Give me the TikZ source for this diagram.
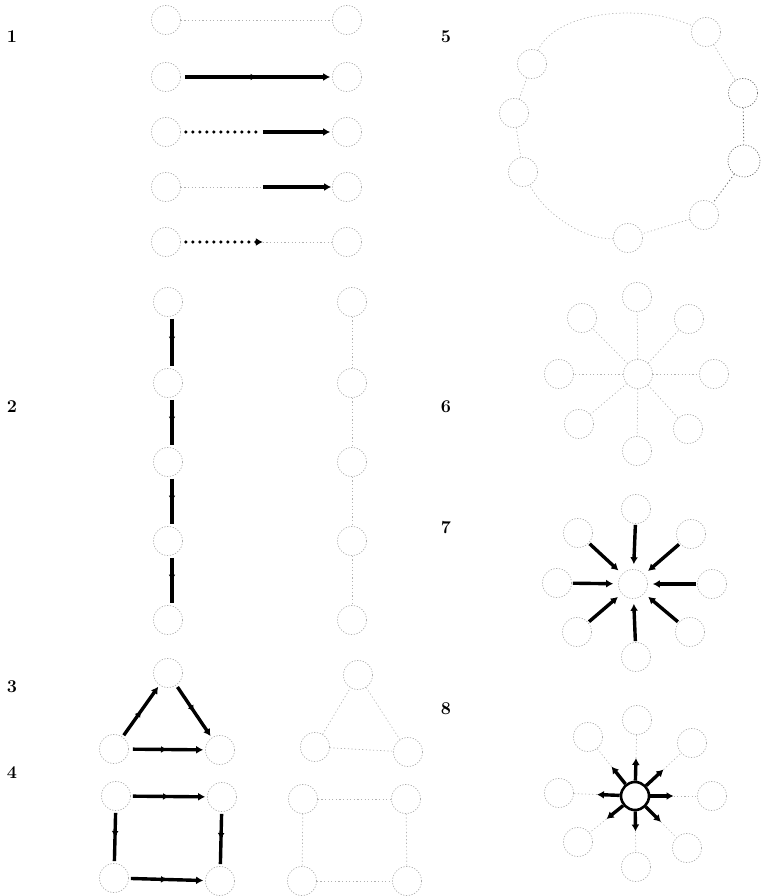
\documentclass[tikz,border=0pt]{standalone}
\usetikzlibrary{arrows.meta,calc,decorations.markings}
\begin{document}
\begin{tikzpicture}[x=1pt,y=-1pt,
  vtx/.style={circle,draw=gray!65,line width=0.7pt,dash pattern=on 1.2pt off 1.6pt,minimum size=29pt,inner sep=0pt},
  dvtx/.style={vtx,draw=gray!90!black},
  bvtx/.style={circle,draw=black,line width=2.6pt,minimum size=28pt,inner sep=0pt},
  faint/.style={draw=gray!60,line width=0.7pt,dash pattern=on 1.2pt off 2.4pt},
  dfaint/.style={faint,draw=gray!90!black,line width=0.9pt},
  thk/.style={draw=black,line width=3.4pt},
  dots/.style={draw=black,line width=3.6pt,line cap=round,dash pattern=on 0pt off 7pt},
  tip/.style={-{Latex[length=7pt,width=8pt]}},
  midarr/.style={postaction={decorate},decoration={markings,mark=at position 0.5 with {\arrow{Latex[length=6pt,width=7pt]}}}},
  lbl/.style={font=\bfseries\fontsize{18}{20}\selectfont,inner sep=0pt}]
\useasboundingbox (0,0) rectangle (765,896);

% labels
\node[lbl] (n1) at (12,37) {1};
\node[lbl] (n2) at (12,407) {2};
\node[lbl] (n3) at (12,687) {3};
\node[lbl] (n4) at (12,773) {4};
\node[lbl] (n5) at (446,37) {5};
\node[lbl] (n6) at (446,407) {6};
\node[lbl] (n7) at (446,528) {7};
\node[lbl] (n8) at (446,709) {8};

% ---------- section 1 ----------
\foreach \y [count=\i] in {20,77,132,187,242}{
  \node[vtx] (l\i) at (166,\y) {};
  \node[vtx] (r\i) at (347,\y) {};
}
\draw[faint] (l1) -- (r1);
\draw[thk,midarr,tip,shorten <=4pt,shorten >=2pt] (l2) -- (r2);
\coordinate (m3) at ($(l3)!0.535!(r3)$);
\draw[dots,shorten <=5pt] (l3) -- (m3);
\draw[thk,tip,shorten >=2pt] (m3) -- (r3);
\coordinate (m4) at ($(l4)!0.535!(r4)$);
\draw[faint] (l4) -- (m4);
\draw[thk,tip,shorten >=1pt] (m4) -- (r4);
\coordinate (m5) at ($(l5)!0.535!(r5)$);
\draw[dots,shorten <=5pt,shorten >=6pt] (l5) -- (m5);
\draw[thk,tip] ($(m5)+(-6,0)$) -- (m5);
\draw[faint] (m5) -- (r5);

% ---------- section 2 ----------
\foreach \y [count=\i] in {302,383,462,541,620}{
  \node[vtx] (a\i) at (168,\y) {};
  \node[vtx] (b\i) at (352,\y) {};
}
\foreach \i [evaluate=\i as \j using int(\i+1)] in {1,2,3,4}{
  \draw[thk,midarr,shorten <=2pt,shorten >=2pt] ($(a\i.south)+(4,0)$) -- ($(a\j.north)+(4,0)$);
  \draw[faint] (b\i) -- (b\j);
}

% ---------- section 3 ----------
\node[vtx] (tT) at (168,673) {};
\node[vtx] (tL) at (114,749) {};
\node[vtx] (tR) at (220,750) {};
\draw[thk,midarr,tip,shorten <=2pt,shorten >=2pt] (tL) -- (tT);
\draw[thk,midarr,tip,shorten <=2pt,shorten >=2pt] (tT) -- (tR);
\draw[thk,midarr,tip,shorten <=4pt,shorten >=2pt] (tL) -- (tR);
\node[vtx] (uT) at (358,675) {};
\node[vtx] (uL) at (315,747) {};
\node[vtx] (uR) at (408,752) {};
\draw[faint] (uL) -- (uT);
\draw[faint] (uT) -- (uR);
\draw[faint] (uL) -- (uR);

% ---------- section 4 ----------
\node[vtx] (qA) at (116,796) {};
\node[vtx] (qB) at (222,797) {};
\node[vtx] (qC) at (114,878) {};
\node[vtx] (qD) at (220,881) {};
\draw[thk,midarr,tip,shorten <=2pt,shorten >=2pt] (qA) -- (qB);
\draw[thk,midarr,shorten <=2pt,shorten >=2pt] (qA) -- (qC);
\draw[thk,midarr,shorten <=2pt,shorten >=2pt] (qB) -- (qD);
\draw[thk,midarr,tip,shorten <=2pt,shorten >=2pt] (qC) -- (qD);
\node[vtx] (pA) at (303,799) {};
\node[vtx] (pB) at (406,799) {};
\node[vtx] (pC) at (302,881) {};
\node[vtx] (pD) at (407,881) {};
\draw[faint] (pA) -- (pB);
\draw[faint] (pA) -- (pC);
\draw[faint] (pB) -- (pD);
\draw[faint] (pC) -- (pD);

% ---------- section 5 ----------
\node[vtx] (c1) at (706,32) {};
\node[dvtx] (c2) at (743,93) {};
\node[dvtx,minimum size=32pt] (c3) at (744,161) {};
\node[vtx] (c4) at (704,215) {};
\node[vtx] (c5) at (628,238) {};
\node[vtx] (c6) at (523,172) {};
\node[vtx] (c7) at (514,113) {};
\node[vtx] (c8) at (532,64) {};
\draw[faint] (c1) -- (c2);
\draw[dfaint] (c2) -- (c3);
\draw[dfaint] (c3) -- (c4);
\draw[faint] (c4) -- (c5);
\draw[faint] (c5) .. controls (585,240) and (545,215) .. (c6);
\draw[faint] (c6) -- (c7);
\draw[faint] (c7) -- (c8);
\draw[faint] (c8) .. controls (555,12) and (640,2) .. (c1);

% ---------- section 6 ----------
\node[vtx] (s6c) at (638,374) {};
\foreach \p [count=\i] in {(637,297),(689,319),(714,374),(688,429),(637,451),(579,424),(559,374),(582,318)}{
  \node[vtx] (s6o\i) at \p {};
  \draw[faint] (s6c) -- (s6o\i);
}

% ---------- section 7 ----------
\node[vtx] (s7c) at (633,584) {};
\foreach \p [count=\i] in {(636,509),(691,534),(712,584),(690,632),(636,657),(577,632),(557,583),(578,533)}{
  \node[vtx] (s7o\i) at \p {};
  \draw[thk,tip,shorten <=1pt,shorten >=5pt] (s7o\i) -- (s7c);
}

% ---------- section 8 ----------
\node[bvtx] (s8c) at (635,796) {};
\foreach \p [count=\i] in {(637,720),(692,743),(712,796),(687,848),(636,867),(578,842),(559,793),(588,737)}{
  \node[vtx] (s8o\i) at \p {};
  \coordinate (s8m\i) at ($(s8c)!0.5!(s8o\i)$);
  \draw[thk,tip] (s8c) -- (s8m\i);
  \draw[faint] (s8m\i) -- (s8o\i);
}
\end{tikzpicture}
\end{document}
